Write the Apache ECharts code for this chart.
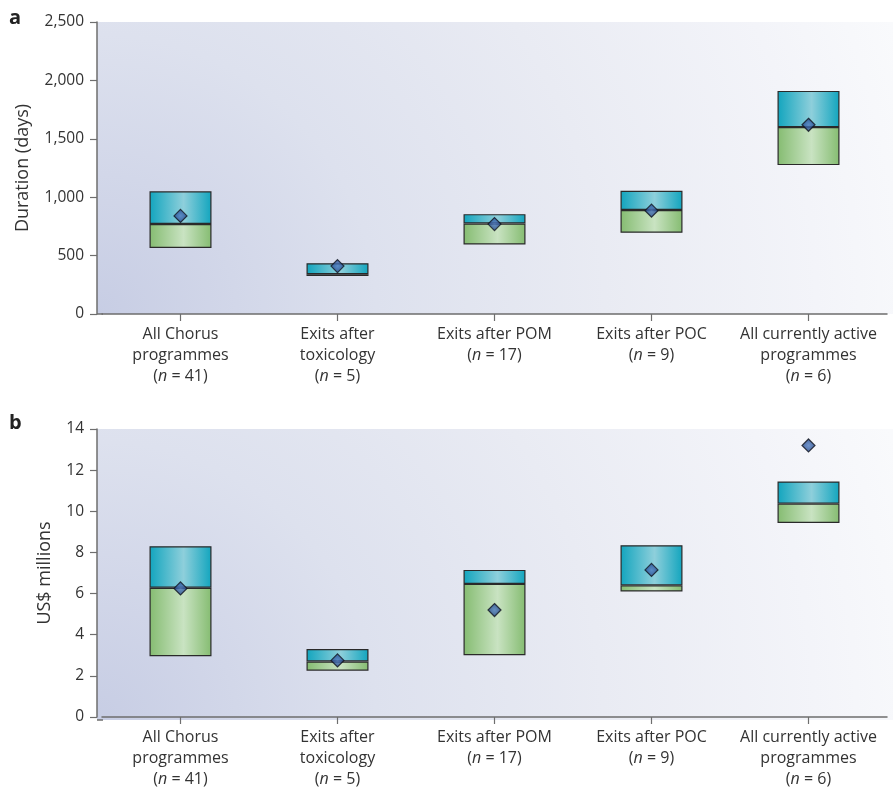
<!DOCTYPE html>
<html>
<head>
<meta charset="utf-8">
<script src="https://cdn.jsdelivr.net/npm/echarts@6/dist/echarts.min.js"></script>
<style>
html,body{margin:0;padding:0;background:#fff;}
#c{width:893px;height:790px;}
</style>
</head>
<body>
<div id="c"></div>
<script>
// ---- data ----
var categories = ['All Chorus\nprogrammes', 'Exits after\ntoxicology', 'Exits after POM', 'Exits after POC', 'All currently active\nprogrammes'];
var nValues = [41, 5, 17, 9, 6];

// panel a: duration (days)
var durLow = [565, 325, 595, 695, 1275];
var durMedian = [770, 340, 775, 890, 1600];
var durHigh = [1050, 435, 855, 1055, 1910];
var durMean = [840, 410, 770, 885, 1620];
var durTicks = [0, 500, 1000, 1500, 2000, 2500];

// panel b: cost (US$ millions)
var costLow = [2.95, 2.25, 3.0, 6.1, 9.43];
var costMedian = [6.28, 2.7, 6.47, 6.4, 10.37];
var costHigh = [8.3, 3.3, 7.15, 8.35, 11.45];
var costMean = [6.25, 2.75, 5.2, 7.15, 13.2];
var costTicks = [0, 2, 4, 6, 8, 10, 12, 14];

// ---- styles ----
var FONT = 'Open Sans';
var TXT = '#333333';
var AXIS = '#6e6e6e';
function hGrad(edge, mid) {
  return new echarts.graphic.LinearGradient(0, 0, 1, 0, [
    {offset: 0, color: edge}, {offset: 0.55, color: mid}, {offset: 1, color: edge}
  ]);
}
var tealGrad = hGrad('#12a5be', '#8ecfdb');
var greenGrad = hGrad('#85bc71', '#c9e3c2');
var diamondGrad = new echarts.graphic.RadialGradient(0.5, 0.5, 0.6, [
  {offset: 0, color: '#4f7cc2'}, {offset: 1, color: '#17397a'}
]);
var bgGrad = new echarts.graphic.RadialGradient(0, 1, 2.9, [
  {offset: 0, color: '#c7cde4'},
  {offset: 0.33, color: '#dde1ee'},
  {offset: 0.6, color: '#e9ebf3'},
  {offset: 0.85, color: '#f3f4f9'},
  {offset: 1, color: '#f9fafc'}
]);

var grids = [
  {left: 102, right: 6, top: 22, height: 292},
  {left: 102, right: 6, top: 429, height: 291}
];

function xAxisFor(gi) {
  return {
    type: 'category', gridIndex: gi, data: categories, boundaryGap: true,
    axisLine: {show: true, lineStyle: {color: AXIS, width: 1.5}},
    axisTick: {show: true, alignWithLabel: true, length: 7, lineStyle: {color: AXIS, width: 1.2}},
    axisLabel: {
      interval: 0, margin: 10, fontFamily: FONT, fontSize: 16, lineHeight: 21, color: TXT,
      formatter: function (v, i) { return v + '\n({i|n} = ' + nValues[i] + ')'; },
      rich: {i: {fontStyle: 'italic', fontFamily: FONT, fontSize: 16, lineHeight: 21, color: TXT}}
    },
    splitLine: {show: false}
  };
}
function yAxisFor(gi, ticks, name, gap, fmt) {
  return {
    type: 'value', gridIndex: gi, min: ticks[0], max: ticks[ticks.length - 1],
    interval: ticks[1] - ticks[0], offset: 5,
    name: name, nameLocation: 'middle', nameGap: gap, nameRotate: 90,
    nameTextStyle: {fontFamily: FONT, fontSize: 18, color: TXT},
    axisLine: {show: true, lineStyle: {color: AXIS, width: 1.5}},
    axisTick: {show: true, length: 7, lineStyle: {color: AXIS, width: 1.2}},
    axisLabel: {margin: 13, fontFamily: FONT, fontSize: 15.5, color: TXT, formatter: fmt},
    splitLine: {show: false}
  };
}

function boxSeries(gi, low, med, high, mean) {
  var stackName = 'box' + gi;
  var border = {borderColor: '#2a2a2a', borderWidth: 1.2};
  return [
    {type: 'bar', xAxisIndex: gi, yAxisIndex: gi, stack: stackName, barWidth: 62,
     data: low, itemStyle: {color: 'rgba(0,0,0,0)'}, silent: true},
    {type: 'bar', xAxisIndex: gi, yAxisIndex: gi, stack: stackName, barWidth: 62,
     data: med.map(function (m, i) { return m - low[i]; }),
     itemStyle: Object.assign({color: greenGrad}, border)},
    {type: 'bar', xAxisIndex: gi, yAxisIndex: gi, stack: stackName, barWidth: 62,
     data: high.map(function (h, i) { return h - med[i]; }),
     itemStyle: Object.assign({color: tealGrad}, border)},
    {type: 'scatter', xAxisIndex: gi, yAxisIndex: gi, symbol: 'diamond', symbolSize: [13, 13],
     data: mean, z: 5,
     itemStyle: {color: diamondGrad, borderColor: '#10141f', borderWidth: 1.2}}
  ];
}

var chart = echarts.init(document.getElementById('c'), null, {renderer: 'canvas'});
chart.setOption({
  animation: false,
  backgroundColor: '#ffffff',
  grid: grids,
  xAxis: [xAxisFor(0), xAxisFor(1)],
  yAxis: [
    yAxisFor(0, durTicks, 'Duration (days)', 65, function (v) { return v.toLocaleString('en-US'); }),
    yAxisFor(1, costTicks, 'US$ millions', 43, function (v) { return String(v); })
  ],
  graphic: [
    {type: 'rect', z: -10, silent: true, shape: {x: 97, y: 22, width: 796, height: 292}, style: {fill: bgGrad}},
    {type: 'rect', z: -10, silent: true, shape: {x: 97, y: 429, width: 796, height: 291}, style: {fill: bgGrad}},
    {type: 'line', z: 10, silent: true, shape: {x1: 97, y1: 314, x2: 103, y2: 314}, style: {stroke: AXIS, lineWidth: 1.5}},
    {type: 'line', z: 10, silent: true, shape: {x1: 97, y1: 720, x2: 103, y2: 720}, style: {stroke: AXIS, lineWidth: 1.5}},
    {type: 'text', left: 9, top: 8, style: {text: 'a', fontFamily: FONT, fontWeight: 'bold', fontSize: 20, fill: '#222'}},
    {type: 'text', left: 9, top: 413, style: {text: 'b', fontFamily: FONT, fontWeight: 'bold', fontSize: 20, fill: '#222'}}
  ],
  series: [].concat(
    boxSeries(0, durLow, durMedian, durHigh, durMean),
    boxSeries(1, costLow, costMedian, costHigh, costMean)
  )
});
</script>
</body>
</html>
